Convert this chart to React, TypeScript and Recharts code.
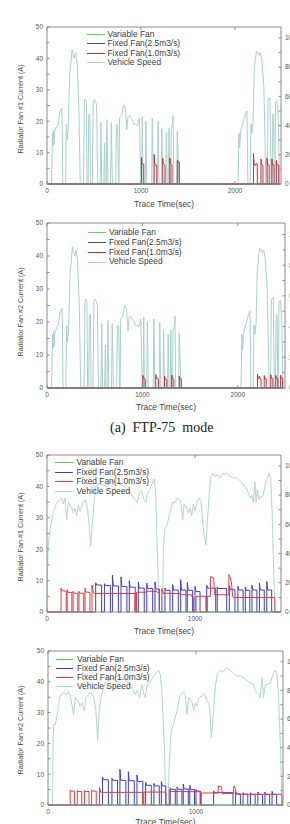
import React from 'react';
import { LineChart, Line, XAxis, YAxis, Legend } from 'recharts';

type Pt = [number, number];
type Pulse = [number, number, number, number]; // on time, off time, peak (A), plateau (A)

const FONT = '"Liberation Sans", Arial, Helvetica, sans-serif';
const AX = '#8a8a8a';

// ---------- tick labels ----------
const leftTicks = [0, 5, 10, 15, 20, 25, 30, 35, 40, 45, 50];
const rightTicks = [0, 10, 20, 30, 40, 50, 60, 70, 80, 90, 100];
const ftpTicks = [0, 1000, 2000];
const hwTicks = [0, 1000];
const legendNames = ['Variable Fan', 'Fixed Fan(2.5m3/s)', 'Fixed Fan(1.0m3/s)', 'Vehicle Speed'];

// ---------- FTP-75 : vehicle speed (km/h) ----------
const ftpSpeed: Pt[] = [
  [0, 0], [48, 0], [58, 35], [62, 26], [68, 37], [74, 27], [82, 36], [100, 39], [118, 41], [136, 49], [156, 52], [162, 40], [168, 0],
  [198, 0], [206, 41], [214, 30], [226, 38], [242, 76], [254, 82], [266, 92], [278, 89], [290, 86], [304, 90], [320, 83], [338, 55], [354, 0],
  [388, 0], [398, 56], [406, 58], [418, 57], [426, 0],
  [438, 0], [444, 47], [456, 48], [462, 0],
  [482, 0], [492, 57], [504, 58], [518, 56], [528, 54], [540, 0],
  [566, 0], [574, 42], [582, 0],
  [604, 0], [612, 28], [618, 0],
  [630, 0], [638, 44], [648, 0],
  [676, 0], [684, 42], [696, 0],
  [730, 0], [738, 41], [752, 40], [760, 0],
  [766, 0], [772, 45], [796, 47], [816, 54], [834, 52], [848, 37], [862, 46], [878, 47], [892, 45], [908, 44], [924, 41], [942, 41], [962, 40], [984, 45], [998, 0],
  [1008, 0], [1014, 46], [1022, 0],
  [1046, 0], [1052, 43], [1062, 0],
  [1114, 0], [1120, 45], [1132, 0],
  [1176, 0], [1182, 43], [1192, 0],
  [1216, 0], [1222, 38], [1232, 0],
  [1264, 0], [1270, 35], [1280, 0],
  [1292, 0], [1298, 38], [1306, 0],
  [1316, 0], [1322, 38], [1334, 40], [1342, 47], [1350, 0],
  [1380, 0], [1386, 36], [1406, 0],
  [2034, 0], [2042, 35], [2050, 25], [2060, 36], [2082, 41], [2100, 45], [2117, 49], [2128, 50], [2138, 0],
  [2162, 0], [2170, 41], [2180, 35], [2192, 42], [2205, 77], [2218, 86], [2230, 91], [2244, 90], [2258, 88], [2272, 90], [2286, 85], [2307, 67], [2330, 0],
  [2344, 0], [2352, 58], [2372, 59], [2384, 0],
  [2396, 0], [2402, 48], [2412, 47], [2420, 0],
  [2426, 0], [2432, 56], [2446, 57], [2460, 47], [2474, 0],
];

// ---------- FTP-75 : fan currents (A) ----------
const ftpZero: Pt[] = [[0, 0], [2474, 0]];
const ftpFan1Fixed10: Pt[] = [
  [0, 0], [1005, 0], [1005, 8.5], [1010, 7], [1014, 6.4], [1030, 6.2], [1030, 0],
  [1140, 0], [1140, 9.4], [1146, 7], [1150, 6], [1168, 6], [1168, 0],
  [1232, 0], [1232, 8.2], [1237, 6.5], [1256, 6], [1256, 0],
  [1308, 0], [1308, 8.3], [1313, 6.5], [1330, 6], [1330, 0],
  [1387, 0], [1387, 7.5], [1392, 7], [1408, 7], [1408, 0],
  [2197, 0], [2197, 9.8], [2202, 7], [2208, 6], [2222, 6], [2225, 6.5], [2238, 6.4], [2238, 0],
  [2277, 0], [2277, 8], [2282, 6.2], [2298, 6], [2298, 0],
  [2341, 0], [2341, 8.2], [2346, 6.2], [2364, 6], [2364, 0],
  [2393, 0], [2393, 8], [2398, 6.2], [2416, 6], [2416, 0],
  [2441, 0], [2441, 7.5], [2446, 6.2], [2466, 6], [2466, 0], [2474, 0],
];
const ftpFan2Fixed10: Pt[] = [
  [0, 0], [1005, 0], [1005, 3.8], [1010, 3], [1030, 2.6], [1030, 0],
  [1140, 0], [1140, 4.1], [1146, 3], [1168, 2.7], [1168, 0],
  [1232, 0], [1232, 3.6], [1237, 2.8], [1256, 2.6], [1256, 0],
  [1308, 0], [1308, 3.9], [1313, 2.9], [1330, 2.6], [1330, 0],
  [1387, 0], [1387, 3.6], [1392, 2.9], [1408, 2.7], [1408, 0],
  [2206, 0], [2206, 4.2], [2211, 3], [2222, 2.9], [2226, 3.6], [2232, 2.9], [2244, 2.8], [2244, 0],
  [2277, 0], [2277, 3.8], [2282, 2.9], [2298, 2.8], [2298, 0],
  [2346, 0], [2346, 4], [2351, 3], [2368, 2.9], [2368, 0],
  [2399, 0], [2399, 3.8], [2404, 2.9], [2420, 2.8], [2420, 0],
  [2449, 0], [2449, 3.9], [2454, 3], [2470, 2.9], [2470, 0], [2474, 0],
];

// ---------- HWFET : vehicle speed (km/h) ----------
const hwSpeed1: Pt[] = [
  [0, 0], [4, 30], [9, 47], [20, 56], [43, 68], [65, 75], [99, 78], [110, 74], [122, 78], [133, 63], [144, 75], [167, 71], [178, 68], [189, 71],
  [200, 66], [212, 73], [223, 69], [245, 75], [257, 77], [275, 70], [286, 57], [295, 45], [306, 61], [320, 77], [330, 86], [360, 88], [400, 86],
  [440, 90], [480, 88], [520, 86], [560, 82], [595, 77], [610, 75], [624, 81], [640, 83], [655, 77], [669, 75], [678, 81], [696, 84], [714, 89],
  [725, 91], [736, 77], [745, 43], [759, 0],
  [782, 0], [786, 43], [797, 57], [809, 59], [831, 68], [849, 75], [865, 75], [881, 78], [894, 77], [903, 76], [917, 63], [926, 74], [944, 71],
  [955, 68], [966, 71], [977, 66], [989, 74], [1000, 69], [1016, 76], [1029, 78], [1041, 75], [1052, 61], [1063, 52], [1074, 46], [1083, 61],
  [1097, 82], [1106, 92], [1119, 95], [1135, 93], [1151, 94], [1169, 92], [1180, 93], [1191, 95], [1203, 94], [1214, 95], [1236, 93], [1259, 92],
  [1281, 92], [1304, 90], [1326, 87], [1344, 85], [1360, 82], [1371, 78], [1383, 80], [1394, 75], [1405, 89], [1412, 76], [1421, 84], [1432, 77],
  [1443, 79], [1457, 79], [1473, 86], [1488, 91], [1500, 95], [1511, 91], [1522, 66], [1534, 20], [1540, 0], [1581, 0],
];
const hwSpeed2: Pt[] = [
  [0, 0], [31, 0], [34, 40], [38, 56], [49, 56], [60, 62], [83, 76], [106, 79], [128, 77], [139, 79], [151, 76], [173, 63], [184, 75], [207, 72],
  [218, 69], [229, 71], [245, 66], [256, 75], [274, 77], [286, 79], [308, 76], [324, 66], [335, 45], [346, 66], [364, 78], [390, 86], [430, 88],
  [470, 90], [510, 88], [550, 85], [590, 77], [601, 80], [619, 75], [635, 84], [646, 78], [657, 75], [669, 83], [691, 86], [714, 90], [747, 94],
  [759, 91], [770, 78], [786, 43], [797, 0], [811, 0], [820, 31], [831, 50], [849, 57], [872, 66], [894, 77], [917, 79], [928, 77], [939, 63],
  [950, 75], [973, 72], [984, 66], [995, 71], [1006, 69], [1022, 75], [1040, 76], [1056, 78], [1074, 73], [1092, 69], [1104, 47], [1119, 66],
  [1131, 83], [1146, 92], [1164, 94], [1187, 93], [1209, 96], [1232, 94], [1254, 92], [1277, 90], [1299, 90], [1322, 89], [1344, 87], [1367, 85],
  [1385, 85], [1401, 80], [1423, 77], [1435, 75], [1446, 89], [1457, 75], [1468, 84], [1480, 84], [1502, 85], [1520, 91], [1536, 94], [1547, 91],
  [1558, 76], [1570, 43], [1581, 0], [1588, 0],
];

// ---------- HWFET : fan currents (A) ----------
const hwFan1Fixed25: Pulse[] = [
  [329, 369, 9.3, 8.6], [388, 428, 9.0, 8.4], [442, 482, 11.8, 8.3], [500, 540, 11.2, 8.1], [556, 596, 10.0, 7.9], [617, 657, 9.5, 7.6],
  [674, 714, 9.2, 7.5], [730, 759, 9.6, 7.3], [797, 831, 7.6, 6.9], [849, 887, 8.7, 7.0], [903, 939, 10.3, 7.0], [948, 984, 9.4, 6.9],
  [1000, 1034, 8.2, 6.5], [1079, 1140, 8.5, 7.6], [1150, 1214, 8.0, 7.5], [1232, 1270, 8.4, 7.1], [1290, 1325, 8.2, 7.0], [1340, 1370, 8.0, 6.9],
  [1385, 1418, 8.5, 7.0], [1435, 1468, 9.2, 7.0], [1485, 1518, 9.7, 7.0],
];
const hwFan1Fixed10: Pt[] = [
  [0, 0], [95, 0], [95, 7.6], [100, 6.8], [130, 6.6], [130, 0],
  [136, 0], [136, 7.1], [141, 6.3], [168, 6.2], [168, 0],
  [176, 0], [176, 6.6], [181, 6.0], [208, 6.0], [208, 0],
  [216, 0], [216, 6.6], [221, 6.0], [248, 6.0], [248, 0],
  [257, 0], [257, 7.6], [262, 6.4], [290, 6.2], [290, 0],
  [304, 0], [304, 8.6], [312, 6.5], [320, 5.9], [595, 5.9], [595, 0], [605, 0], [605, 6.3], [672, 6.3], [676, 6.6], [740, 6.6], [744, 6.3], [759, 6.3], [759, 0],
  [776, 0], [776, 7.5], [784, 6.0], [900, 5.8], [904, 5.5], [977, 5.5], [980, 4.8], [989, 4.8], [989, 0], [1007, 0], [1007, 5.0], [1074, 5.0],
  [1074, 0], [1083, 0], [1083, 5.0], [1104, 5.0], [1106, 11.3], [1126, 10.8], [1132, 5.5], [1228, 5.5], [1230, 11.9], [1246, 9.7], [1254, 5.0],
  [1262, 4.6], [1540, 4.6], [1540, 0], [1581, 0],
];
const hwFan1Variable: Pt[] = [[760, 0], [1581, 0]];

const hwFan2Fixed25: Pulse[] = [
  [368, 408, 9.1, 8.2], [432, 470, 8.7, 8.0], [486, 526, 11.6, 8.0], [543, 583, 10.8, 7.9], [601, 641, 9.8, 7.6], [660, 698, 7.4, 6.4],
  [716, 752, 7.0, 6.2], [766, 796, 7.6, 6.2], [826, 860, 5.6, 5.1], [872, 905, 5.9, 5.1], [914, 948, 6.8, 5.2], [958, 990, 6.4, 5.0],
  [1000, 1030, 5.0, 4.5], [1119, 1250, 4.6, 4.0], [1268, 1300, 4.3, 3.6], [1318, 1350, 4.0, 3.5], [1368, 1400, 4.0, 3.4], [1418, 1450, 4.2, 3.4],
  [1466, 1498, 4.2, 3.4], [1514, 1545, 4.4, 3.4],
];
const hwFan2Fixed10: Pt[] = [
  [0, 0], [150, 0], [150, 4.8], [155, 4.5], [180, 4.5], [180, 0],
  [198, 0], [198, 4.7], [203, 4.4], [228, 4.4], [228, 0],
  [246, 0], [246, 4.7], [251, 4.4], [277, 4.4], [277, 0],
  [295, 0], [295, 4.8], [300, 4.5], [326, 4.5], [326, 0],
  [348, 0], [348, 5.7], [355, 4.2], [362, 4.1], [640, 4.1], [640, 0], [648, 0], [648, 4.2], [796, 4.2], [796, 0],
  [820, 0], [820, 5.0], [826, 4.4], [1028, 4.3], [1028, 0], [1036, 0], [1036, 3.9], [1150, 3.9], [1152, 6.2], [1172, 5.9], [1178, 3.7],
  [1254, 3.7], [1256, 6.2], [1266, 5.3], [1274, 3.5], [1581, 3.5], [1581, 0], [1588, 0],
];
const hwFan2Variable: Pt[] = [[365, 0], [1588, 0]];

// ---------- helpers ----------
const toRows = (pts: Pt[]) => pts.map(([t, v]) => ({ t, v }));
const pulseTrace = (list: Pulse[], tEnd: number): Pt[] => {
  const out: Pt[] = [[0, 0]];
  list.forEach(([on, off, peak, plateau]) => {
    out.push([on, 0], [on, peak], [on + 6, plateau], [off, plateau], [off, 0]);
  });
  out.push([tEnd, 0]);
  return out;
};

const C1 = { green: '#62d06a', fixed25: '#4b4e68', fixed10: '#b9343f', speed: '#a8d2cd' };
const C2 = { green: '#4fd34f', fixed25: '#3c3cd4', fixed10: '#e23b3b', speed: '#b0d6d2' };

interface SeriesDef { color: string; pts: Pt[]; axis: 'left' | 'right'; top?: boolean; w?: number }
interface PanelDef {
  top: number; l: number; r: number; t: number; b: number;
  xMax: number; xTicks: number[];
  yLabel: string; yLabelY: number; xLabelY: number;
  legendX: number; legendY: number; rowH: number; lineW: number; gap: number;
  colors: string[];
  draw: SeriesDef[];
}

const YLab = (props: any) => (
  <text
    x={props.lx}
    y={props.ly}
    transform={`rotate(-90 ${props.lx} ${props.ly})`}
    textAnchor="middle"
    dominantBaseline="central"
    fontSize={7.2}
    fill="#444"
    fontFamily={FONT}
  >
    {props.ltext}
  </text>
);

const LegendBox = ({ p }: { p: PanelDef }) => (
  <div style={{ fontFamily: FONT, fontSize: 8.4, color: '#3c3c3c' }}>
    {legendNames.map((n, i) => (
      <div key={n} style={{ display: 'flex', alignItems: 'center', height: p.rowH, whiteSpace: 'nowrap' }}>
        <span style={{ display: 'inline-block', width: p.lineW, height: 0, borderTop: `1.4px solid ${p.colors[i]}`, marginRight: p.gap }} />
        <span style={{ lineHeight: `${p.rowH}px` }}>{n}</span>
      </div>
    ))}
  </div>
);

function Panel({ p }: { p: PanelDef }) {
  const W = 310;
  const H = p.b + 26 - p.top;
  const margin = { top: p.t - p.top - 1, right: W - p.r - 24, bottom: 0, left: p.l - 30 };
  const tickStyle = { fontSize: 6.5, fill: '#555', fontFamily: FONT };
  return (
    <div style={{ position: 'absolute', left: 0, top: p.top, width: W, height: H }}>
      <LineChart width={W} height={H} margin={margin}>
        <XAxis
          xAxisId="b" type="number" dataKey="t" domain={[0, p.xMax]} ticks={p.xTicks} interval={0}
          tickSize={-3} tickMargin={7} tick={tickStyle} axisLine={{ stroke: AX }} tickLine={{ stroke: AX }} height={26}
          label={{ value: 'Trace Time(sec)', position: 'insideBottom', offset: p.b + 26 - p.xLabelY - 3, fontSize: 8.4, fill: '#444', fontFamily: FONT }}
        />
        <XAxis
          xAxisId="top" orientation="top" type="number" dataKey="t" domain={[0, p.xMax]} ticks={p.xTicks} interval={0}
          tickSize={-3} tickFormatter={() => ''} axisLine={{ stroke: AX }} tickLine={{ stroke: AX }} height={1}
        />
        <YAxis
          yAxisId="left" type="number" domain={[0, 50]} ticks={leftTicks} interval={0} width={30}
          tickSize={-2.5} tickMargin={6.5} tick={tickStyle} axisLine={{ stroke: AX }} tickLine={{ stroke: AX }}
          tickFormatter={(v: number) => (v % 10 === 0 ? String(v) : '')}
          label={<YLab lx={20} ly={p.yLabelY - p.top} ltext={p.yLabel} />}
        />
        <YAxis
          yAxisId="right" orientation="right" type="number" domain={[0, 107.5]} ticks={rightTicks} interval={0} width={24}
          tickSize={-2.5} tickMargin={6.5} tick={tickStyle} axisLine={{ stroke: AX }} tickLine={{ stroke: AX }}
          tickFormatter={(v: number) => (v % 20 === 0 ? String(v) : '')}
        />
        {p.draw.map((s, i) => (
          <Line
            key={i}
            xAxisId={s.top ? 'top' : 'b'}
            yAxisId={s.axis}
            data={toRows(s.pts)}
            dataKey="v"
            type="linear"
            stroke={s.color}
            strokeWidth={s.w ?? 1}
            dot={false}
            activeDot={false}
            isAnimationActive={false}
          />
        ))}
        <Legend
          layout="horizontal" verticalAlign="middle" align="center"
          wrapperStyle={{ left: p.legendX, top: p.legendY, width: 200 }}
          content={() => <LegendBox p={p} />}
        />
      </LineChart>
    </div>
  );
}

const panels: PanelDef[] = [
  {
    top: 0, l: 47, r: 281, t: 27, b: 184, xMax: 2490, xTicks: ftpTicks,
    yLabel: 'Radiator Fan #1 Current (A)', yLabelY: 109, xLabelY: 204,
    legendX: 87, legendY: 29.7, rowH: 9.5, lineW: 18, gap: 2.5,
    colors: [C1.green, C1.fixed25, C1.fixed10, C1.speed],
    draw: [
      { color: C1.speed, pts: ftpSpeed, axis: 'right' },
      { color: C1.green, pts: ftpZero, axis: 'left', top: true },
      { color: C1.fixed10, pts: ftpFan1Fixed10, axis: 'left' },
      { color: C1.fixed25, pts: ftpZero, axis: 'left' },
    ],
  },
  {
    top: 200, l: 47, r: 285, t: 223, b: 388, xMax: 2495, xTicks: ftpTicks,
    yLabel: 'Radiator Fan #2 Current (A)', yLabelY: 312, xLabelY: 407,
    legendX: 88, legendY: 27.8, rowH: 9.87, lineW: 18, gap: 3,
    colors: [C1.green, C1.fixed25, C1.fixed10, C1.speed],
    draw: [
      { color: C1.speed, pts: ftpSpeed, axis: 'right' },
      { color: C1.green, pts: ftpZero, axis: 'left', top: true },
      { color: C1.fixed10, pts: ftpFan2Fixed10, axis: 'left' },
      { color: C1.fixed25, pts: ftpZero, axis: 'left' },
    ],
  },
  {
    top: 436, l: 47, r: 281, t: 455, b: 612, xMax: 1581, xTicks: hwTicks,
    yLabel: 'Radiator Fan #1 Current (A)', yLabelY: 537, xLabelY: 631,
    legendX: 55, legendY: 22, rowH: 9.55, lineW: 18, gap: 3.5,
    colors: [C2.green, C2.fixed25, C2.fixed10, C2.speed],
    draw: [
      { color: C2.speed, pts: hwSpeed1, axis: 'right' },
      { color: C2.fixed25, pts: pulseTrace(hwFan1Fixed25, 1581), axis: 'left' },
      { color: C2.fixed10, pts: hwFan1Fixed10, axis: 'left' },
      { color: C2.green, pts: hwFan1Variable, axis: 'left', top: true },
    ],
  },
  {
    top: 636, l: 48, r: 283, t: 651, b: 805, xMax: 1588, xTicks: hwTicks,
    yLabel: 'Radiator Fan #2 Current (A)', yLabelY: 730, xLabelY: 822,
    legendX: 56, legendY: 18.9, rowH: 8.9, lineW: 17, gap: 4,
    colors: [C2.green, C2.fixed25, C2.fixed10, C2.speed],
    draw: [
      { color: C2.speed, pts: hwSpeed2, axis: 'right' },
      { color: C2.fixed25, pts: pulseTrace(hwFan2Fixed25, 1588), axis: 'left' },
      { color: C2.fixed10, pts: hwFan2Fixed10, axis: 'left' },
      { color: C2.green, pts: hwFan2Variable, axis: 'left', top: true },
    ],
  },
];

export default function App() {
  return (
    <div style={{ position: 'absolute', left: 0, top: 0, width: 290, height: 824, overflow: 'hidden', background: '#fff' }}>
      {panels.map((p, i) => (
        <Panel key={i} p={p} />
      ))}
      <div
        style={{
          position: 'absolute', left: 110, top: 419, height: 18, lineHeight: '18px', whiteSpace: 'pre',
          fontFamily: '"Liberation Serif", "Times New Roman", serif', fontSize: 14, color: '#222',
        }}
      >
        {'(a)  FTP-75  mode'}
      </div>
    </div>
  );
}
